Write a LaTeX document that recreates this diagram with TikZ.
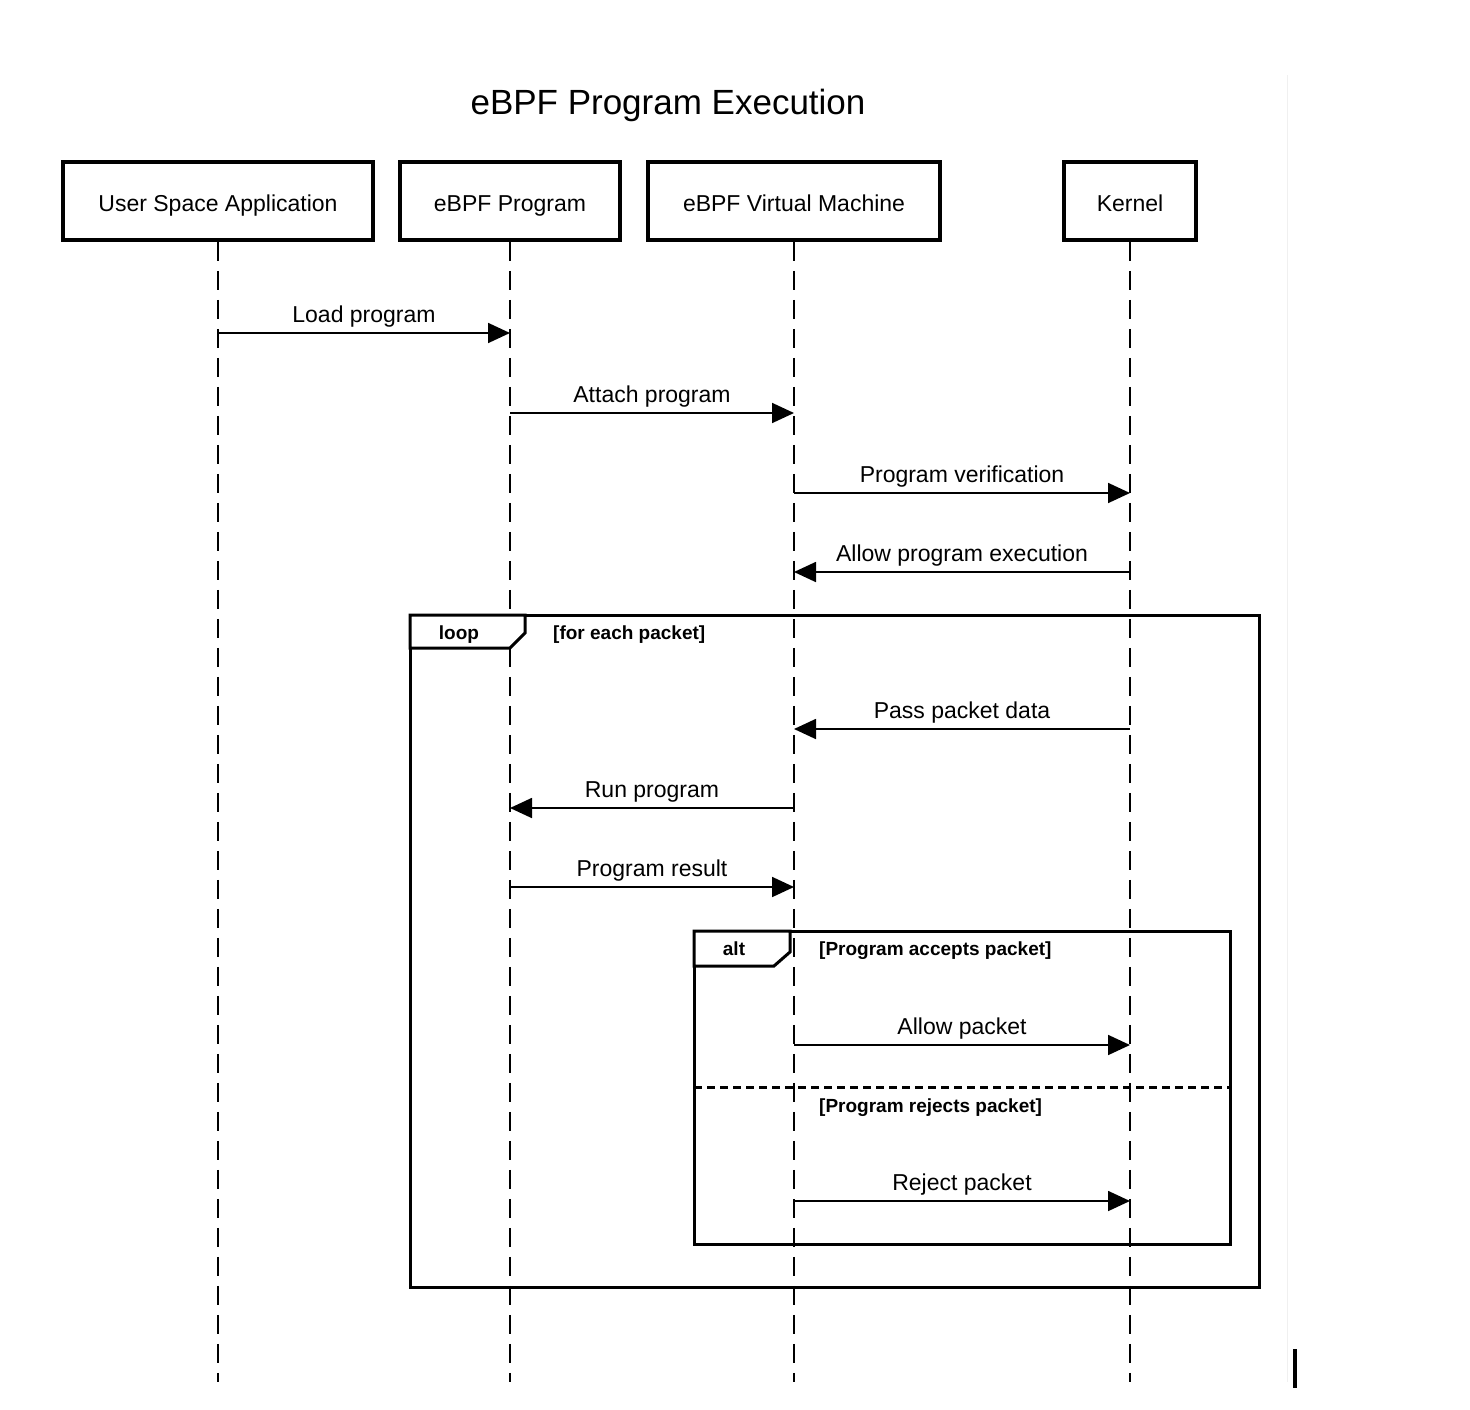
\documentclass[tikz,border=0pt]{standalone}
\usepackage{fontspec}
\setmainfont{Liberation Sans}
\usetikzlibrary{arrows.meta,positioning}

\tikzset{
  actor/.style={draw,line width=3.5pt,minimum height=78pt,inner sep=0pt,text height=22pt,text depth=1pt,font=\fontsize{23}{26}\selectfont},
  lifeline/.style={line width=1.8pt,dash pattern=on 19pt off 10pt},
  msg/.style={line width=1.8pt,-{Triangle[length=22pt,width=20pt]}},
  msglabel/.style={above=5pt,inner sep=0pt,font=\fontsize{23}{26}\selectfont},
  frame/.style={line width=3pt},
  tag/.style={inner sep=0pt,text height=14pt,text depth=4pt,font=\bfseries\fontsize{19}{22}\selectfont},
}

\begin{document}
\begin{tikzpicture}[x=1pt,y=-1pt]
  \useasboundingbox (0,0) rectangle (1470,1410);
  \node[font=\fontsize{35}{40}\selectfont,text height=26pt,text depth=8pt] (title) at (668,106) {eBPF Program Execution};

  % participants
  \node[actor,minimum width=310pt] (usr)  at (218,201) {User Space Application};
  \node[actor,minimum width=220pt] (prog) at (510,201) {eBPF Program};
  \node[actor,minimum width=292pt] (vm)   at (794,201) {eBPF Virtual Machine};
  \node[actor,minimum width=132pt] (kern) at (1130,201) {Kernel};

  \coordinate (end) at (0,1382);
  \foreach \p in {usr,prog,vm,kern}
    \draw[lifeline] (\p.south) -- (\p |- end);

  % message levels
  \coordinate (m1) at (0,333);
  \coordinate (m2) at (0,413);
  \coordinate (m3) at (0,493);
  \coordinate (m4) at (0,572);
  \coordinate (m5) at (0,729);
  \coordinate (m6) at (0,808);
  \coordinate (m7) at (0,887);
  \coordinate (m8) at (0,1045);
  \coordinate (m9) at (0,1201);

  % loop frame
  \draw[frame] (410,615) rectangle (1259,1287);
  \draw[frame,fill=white] (410,615) -- (525,615) -- (525,633) -- (510,648) -- (410,648) -- cycle;
  \node[tag] (looptag) at (459,634) {loop};
  \node[tag,anchor=west] (loopcond) at (553,634) {[for each packet]};

  % alt frame
  \draw[frame] (694,931) rectangle (1230,1244);
  \draw[frame,fill=white] (694,931) -- (790,931) -- (790,952) -- (774,966) -- (694,966) -- cycle;
  \node[tag] (alttag) at (734,950) {alt};
  \node[tag,anchor=west] (accept) at (819,950) {[Program accepts packet]};
  \draw[line width=3pt,dash pattern=on 8pt off 5pt] (694,1087) -- (1230,1087);
  \node[tag,anchor=west] (reject) at (819,1107) {[Program rejects packet]};

  % messages
  \draw[msg] (usr |- m1) -- node[msglabel] {Load program} (prog |- m1);
  \draw[msg] (prog |- m2) -- node[msglabel] {Attach program} (vm |- m2);
  \draw[msg] (vm |- m3) -- node[msglabel] {Program verification} (kern |- m3);
  \draw[msg] (kern |- m4) -- node[msglabel] {Allow program execution} (vm |- m4);
  \draw[msg] (kern |- m5) -- node[msglabel] {Pass packet data} (vm |- m5);
  \draw[msg] (vm |- m6) -- node[msglabel] {Run program} (prog |- m6);
  \draw[msg] (prog |- m7) -- node[msglabel] {Program result} (vm |- m7);
  \draw[msg] (vm |- m8) -- node[msglabel] {Allow packet} (kern |- m8);
  \draw[msg] (vm |- m9) -- node[msglabel] {Reject packet} (kern |- m9);

  % screenshot edge and cursor
  \draw[black!6,line width=1pt] (1287,75) -- (1287,1382);
  \draw[line width=4pt] (1295,1349) -- (1295,1388);
\end{tikzpicture}
\end{document}
